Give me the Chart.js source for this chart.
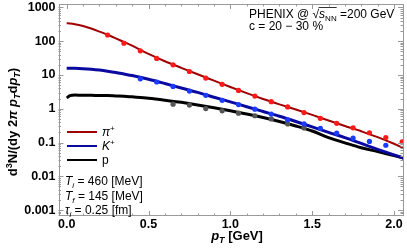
<!DOCTYPE html>
<html>
<head>
<meta charset="utf-8">
<script src="https://cdn.jsdelivr.net/npm/chart.js@4.4.1/dist/chart.umd.min.js"></script>
<style>
  html, body { margin: 0; padding: 0; background: #fff; }
  #wrap { width: 407px; height: 250px; }
</style>
</head>
<body>
<div id="wrap"><canvas id="spectra" width="407" height="250"></canvas></div>
<script>
// model curves (hydro), sampled in pT [GeV]
const ptCurve     = [0, 0.02, 0.05, 0.1, 0.15, 0.2, 0.25, 0.3, 0.35, 0.4, 0.5, 0.6, 0.7, 0.8, 0.9, 1.0, 1.1, 1.2, 1.3, 1.4, 1.5, 1.6, 1.7, 1.8, 1.9, 2.0, 2.1];
const pionCurve   = [340, 335, 320, 282, 238, 193, 155, 122, 95, 74, 42, 25.5, 16.3, 10.5, 6.8, 4.4, 2.9, 1.95, 1.35, 0.95, 0.66, 0.45, 0.31, 0.215, 0.145, 0.092, 0.055];
const kaonCurve   = [15.9, 15.9, 15.8, 15.4, 14.8, 14.0, 13.0, 11.9, 10.7, 9.6, 7.5, 5.6, 4.1, 3.05, 2.2, 1.6, 1.15, 0.83, 0.6, 0.42, 0.29, 0.2, 0.14, 0.094, 0.063, 0.043, 0.03];
const protonCurve = [2.1, 2.45, 2.55, 2.5, 2.5, 2.45, 2.45, 2.4, 2.35, 2.25, 2.05, 1.8, 1.55, 1.3, 1.07, 0.87, 0.7, 0.55, 0.42, 0.31, 0.22, 0.14, 0.098, 0.07, 0.054, 0.041, 0.031];

// PHENIX data points
const ptPion     = [0.25, 0.35, 0.45, 0.55, 0.65, 0.75, 0.85, 0.95, 1.05, 1.15, 1.25, 1.35, 1.45, 1.55, 1.65, 1.75, 1.85, 1.95, 2.05];
const pionData   = [153, 87, 52, 31, 20, 12.7, 8.1, 5.3, 3.5, 2.38, 1.62, 1.13, 0.77, 0.52, 0.37, 0.273, 0.195, 0.14, 0.105];
const ptKaon     = [0.45, 0.55, 0.65, 0.75, 0.85, 0.95, 1.05, 1.15, 1.25, 1.35, 1.45, 1.55, 1.65, 1.75, 1.85, 1.95];
const kaonData   = [7.7, 6.2, 4.6, 3.35, 2.5, 1.78, 1.33, 0.975, 0.70, 0.47, 0.356, 0.265, 0.19, 0.135, 0.108, 0.083];
const ptProton   = [0.65, 0.75, 0.85, 0.95, 1.05, 1.15, 1.25, 1.35, 1.45];
const protonData = [1.37, 1.29, 1.01, 0.87, 0.74, 0.62, 0.5, 0.355, 0.27];

const xTicks = [0, 0.5, 1.0, 1.5, 2.0];
const yTicks = [0.001, 0.01, 0.1, 1, 10, 100, 1000];
const yTickLabels = ['0.001', '0.01', '0.1', '1', '10', '100', '1000'];

const FAM = '"Liberation Sans", Arial, sans-serif';
const fnt = (size, style) => (style ? style + ' ' : '') + size + 'px ' + FAM;

const xy = (xs, ys) => xs.map((x, i) => ({ x: x, y: ys[i] }));

function curve(label, xs, ys, color, width, order) {
    return {
        label: label, data: xy(xs, ys), showLine: true, pointRadius: 0,
        borderColor: color, borderWidth: width, fill: false,
        cubicInterpolationMode: 'monotone', order: order
    };
}
function points(label, xs, ys, color) {
    return {
        label: label, data: xy(xs, ys), showLine: false, pointRadius: 2.6,
        pointBorderWidth: 0, backgroundColor: color, borderColor: color, order: 0
    };
}

// draw a run of text pieces with their own fonts / baseline shifts
function rich(ctx, x, y, parts, align) {
    let w = 0;
    parts.forEach(p => { ctx.font = p.f; w += ctx.measureText(p.t).width; });
    let cx = align === 'center' ? x - w / 2 : x;
    ctx.textAlign = 'left';
    ctx.textBaseline = 'alphabetic';
    const pos = [];
    parts.forEach(p => {
        ctx.font = p.f;
        ctx.fillText(p.t, cx, y + (p.dy || 0));
        const pw = ctx.measureText(p.t).width;
        pos.push([cx, pw]);
        cx += pw;
    });
    return pos;
}

/* frame with inward ticks on all four sides */
const framePlugin = {
    id: 'frame',
    afterDraw(chart) {
        const { ctx, chartArea: a, scales: { x, y } } = chart;
        ctx.save();
        ctx.strokeStyle = '#999';
        ctx.lineWidth = 1;
        ctx.strokeRect(Math.round(a.left) + 0.5, Math.round(a.top) + 0.5,
                       Math.round(a.right - a.left) - 1, Math.round(a.bottom - a.top) - 1);
        ctx.beginPath();
        for (let i = 0; i <= 20; i++) {
            const px = Math.round(x.getPixelForValue(i / 10)) + 0.5;
            const len = i % 5 === 0 ? 5 : 2.5;
            ctx.moveTo(px, a.bottom); ctx.lineTo(px, a.bottom - len);
            ctx.moveTo(px, a.top); ctx.lineTo(px, a.top + len);
        }
        for (let e = -4; e <= 3; e++) {
            for (let m = 1; m <= 9; m++) {
                const v = m * Math.pow(10, e);
                if (v < y.min || v > y.max) continue;
                const py = Math.round(y.getPixelForValue(v)) + 0.5;
                const len = m === 1 ? 5 : 2.5;
                ctx.moveTo(a.left, py); ctx.lineTo(a.left + len, py);
                ctx.moveTo(a.right, py); ctx.lineTo(a.right - len, py);
            }
        }
        ctx.stroke();
        ctx.restore();
    }
};

/* axis titles, legend, annotations */
const textPlugin = {
    id: 'texts',
    afterDraw(chart) {
        const ctx = chart.ctx;
        ctx.save();
        ctx.fillStyle = '#000';

        // y title (rotated)
        ctx.save();
        ctx.translate(12, 122);
        ctx.rotate(-Math.PI / 2);
        rich(ctx, 0, 5, [
            { t: 'd', f: fnt(13, 'bold') }, { t: '3', f: fnt(9, 'bold'), dy: -5 },
            { t: 'N/(dy 2', f: fnt(13, 'bold') }, { t: 'π', f: fnt(13, 'italic bold') },
            { t: ' ', f: fnt(13, 'bold') }, { t: 'p', f: fnt(13, 'italic bold') },
            { t: 'T', f: fnt(9, 'italic bold'), dy: 3 }, { t: 'd', f: fnt(13, 'bold') },
            { t: 'p', f: fnt(13, 'italic bold') }, { t: 'T', f: fnt(9, 'italic bold'), dy: 3 },
            { t: ')', f: fnt(13, 'bold') }
        ], 'center');
        ctx.restore();

        // x title
        rich(ctx, 237, 240, [
            { t: 'p', f: fnt(13, 'italic bold') }, { t: 'T', f: fnt(9, 'italic bold'), dy: 3 },
            { t: ' [GeV]', f: fnt(13, 'bold') }
        ], 'center');

        // legend
        const leg = [
            { c: pionColor, y: 132, parts: [{ t: 'π', f: fnt(12, 'italic') }, { t: '+', f: fnt(8), dy: -5 }] },
            { c: kaonColor, y: 146, parts: [{ t: 'K', f: fnt(12, 'italic') }, { t: '+', f: fnt(8), dy: -5 }] },
            { c: protonColor, y: 160, parts: [{ t: 'p', f: fnt(12) }] }
        ];
        leg.forEach(l => {
            ctx.strokeStyle = l.c;
            ctx.lineWidth = 2;
            ctx.beginPath();
            ctx.moveTo(67, l.y); ctx.lineTo(97, l.y);
            ctx.stroke();
            rich(ctx, 102, l.y + 4, l.parts);
        });

        // model parameters
        rich(ctx, 65, 185, [{ t: 'T', f: fnt(12, 'italic') }, { t: 'i', f: fnt(8, 'italic'), dy: 3 }, { t: ' = 460 [MeV]', f: fnt(12) }]);
        rich(ctx, 65, 199.5, [{ t: 'T', f: fnt(12, 'italic') }, { t: 'f', f: fnt(8, 'italic'), dy: 3 }, { t: ' = 145 [MeV]', f: fnt(12) }]);
        rich(ctx, 65, 214, [{ t: 'τ', f: fnt(12, 'italic') }, { t: 'i', f: fnt(8, 'italic'), dy: 3 }, { t: ' = 0.25 [fm]', f: fnt(12) }]);

        // experiment label
        const pos = rich(ctx, 249, 18, [
            { t: 'PHENIX @ ', f: fnt(12) }, { t: '√', f: fnt(12) },
            { t: 's', f: fnt(12, 'italic') }, { t: 'NN', f: fnt(8), dy: 3 },
            { t: ' =200 GeV', f: fnt(12) }
        ]);
        ctx.strokeStyle = '#000';
        ctx.lineWidth = 0.8;
        ctx.beginPath();
        ctx.moveTo(pos[2][0] - 0.5, 7.5);
        ctx.lineTo(pos[3][0] + pos[3][1], 7.5);
        ctx.stroke();
        rich(ctx, 249, 29.5, [{ t: 'c = 20 − 30 %', f: fnt(12) }]);

        ctx.restore();
    }
};

const pionColor = '#a00000';
const kaonColor = '#0a0aa0';
const protonColor = '#000000';

const chart = new Chart(document.getElementById('spectra'), {
    type: 'scatter',
    data: {
        datasets: [
            points('π+ data', ptPion, pionData, '#ff1a1a'),
            points('K+ data', ptKaon, kaonData, '#1a3cff'),
            points('p data', ptProton, protonData, '#555555'),
            curve('π+', ptCurve, pionCurve, pionColor, 2, 3),
            curve('K+', ptCurve, kaonCurve, kaonColor, 3, 1),
            curve('p', ptCurve, protonCurve, protonColor, 3, 2)
        ]
    },
    options: {
        responsive: false,
        devicePixelRatio: 1,
        animation: false,
        layout: { padding: { top: 1.5, right: 2, left: 0, bottom: 0 } },
        plugins: { legend: { display: false }, tooltip: { enabled: false } },
        scales: {
            x: {
                type: 'linear', min: -0.05, max: 2.055,
                grid: { display: false, drawTicks: false },
                border: { display: false },
                afterBuildTicks: s => { s.ticks = xTicks.map(v => ({ value: v })); },
                afterFit: s => { s.height = 34; s.paddingLeft = 0; s.paddingRight = 0; },
                ticks: {
                    callback: v => Number(v).toFixed(1),
                    font: { family: FAM, size: 12.5, weight: 'bold' },
                    color: '#000', padding: 1, maxRotation: 0, autoSkip: false
                }
            },
            y: {
                type: 'logarithmic', min: 0.000667, max: 1266,
                grid: { display: false, drawTicks: false },
                border: { display: false },
                afterBuildTicks: s => { s.ticks = yTicks.map(v => ({ value: v })); },
                afterFit: s => { s.width = 58.5; s.paddingTop = 0; s.paddingBottom = 0; },
                ticks: {
                    callback: (v, i) => yTickLabels[i],
                    font: { family: FAM, size: 12.5, weight: 'bold' },
                    color: '#000', padding: 3, autoSkip: false
                }
            }
        }
    },
    plugins: [framePlugin, textPlugin]
});
</script>
</body>
</html>
